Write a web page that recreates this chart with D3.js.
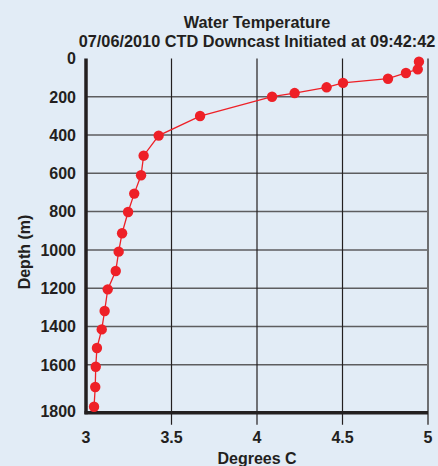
<!DOCTYPE html>
<html><head><meta charset="utf-8">
<script src="https://cdn.jsdelivr.net/npm/d3@7"></script>
<style>
html,body{margin:0;padding:0;background:#e2ecf6;}
svg{display:block;}
text{font-family:"Liberation Sans",Arial,Helvetica,sans-serif;font-weight:bold;fill:#231f20;}
</style></head>
<body>
<svg id="chart" width="438" height="466"></svg>
<script>
const titleLines = ["Water Temperature", "07/06/2010 CTD Downcast Initiated at 09:42:42"];
const xLabel = "Degrees C";
const yLabel = "Depth (m)";
const xTicks = [3, 3.5, 4, 4.5, 5];
const xTickLabels = ["3", "3.5", "4", "4.5", "5"];
const yTicks = [0, 200, 400, 600, 800, 1000, 1200, 1400, 1600, 1800];
const depths = [17, 57, 76, 106, 128, 151, 181, 200, 301, 403, 508, 610, 706, 802, 913, 1009, 1110, 1206, 1319, 1415, 1512, 1610, 1716, 1819];
const temps  = [4.947, 4.94, 4.871, 4.766, 4.503, 4.407, 4.22, 4.088, 3.667, 3.425, 3.337, 3.322, 3.282, 3.246, 3.211, 3.191, 3.174, 3.127, 3.109, 3.092, 3.064, 3.057, 3.054, 3.047];

const svg = d3.select("#chart");
const m = {left: 86, top: 58.4, right: 10, bottom: 53.3};
const W = 438 - m.left - m.right, H = 466 - m.top - m.bottom;
const x = d3.scaleLinear().domain([3, 5]).range([m.left, m.left + W]);
const y = d3.scaleLinear().domain([0, 1850]).range([m.top, m.top + H]);

// horizontal grid
svg.append("g").selectAll("line").data(yTicks.filter(d => d > 0 && d < 1800)).join("line")
  .attr("x1", x(3)).attr("x2", x(5)).attr("y1", d => y(d)).attr("y2", d => y(d))
  .attr("stroke", "#5d5d5f").attr("stroke-width", 1.5);
// vertical grid
svg.append("g").selectAll("line").data(xTicks.filter(d => d > 3)).join("line")
  .attr("x1", d => x(d)).attr("x2", d => x(d)).attr("y1", y(0)).attr("y2", y(1850) + 12)
  .attr("stroke", d => d === 5 ? "#6d6e71" : "#231f20").attr("stroke-width", d => d === 5 ? 2 : 1.2);
// axes
svg.append("line").attr("x1", x(3)).attr("x2", x(3)).attr("y1", y(0)).attr("y2", y(1850) + 1.5)
  .attr("stroke", "#231f20").attr("stroke-width", 3.5);
svg.append("line").attr("x1", x(3) - 1.5).attr("x2", x(5)).attr("y1", y(1850)).attr("y2", y(1850))
  .attr("stroke", "#231f20").attr("stroke-width", 3.5);

// tick labels
svg.append("g").selectAll("text").data(xTicks).join("text")
  .attr("x", d => x(d)).attr("y", 443).attr("text-anchor", "middle")
  .style("font-size", "16px").text((d, i) => xTickLabels[i]);
svg.append("g").selectAll("text").data(yTicks).join("text")
  .attr("x", 76).attr("y", (d, i) => (i === yTicks.length - 1 ? y(1850) - 1.5 : y(d)) + 5.8).attr("text-anchor", "end")
  .style("font-size", "16px").text(d => d);

// titles
svg.append("g").selectAll("text").data(titleLines).join("text")
  .attr("x", 257).attr("y", (d, i) => 28 + i * 19.3).attr("text-anchor", "middle")
  .style("font-size", "16.3px").text(d => d);
svg.append("text").attr("x", 257).attr("y", 464).attr("text-anchor", "middle")
  .style("font-size", "16px").text(xLabel);
svg.append("text").attr("transform", "translate(30,252) rotate(-90)").attr("text-anchor", "middle")
  .style("font-size", "16px").text(yLabel);

// data
const pts = depths.map((d, i) => ({d, t: temps[i]}));
svg.append("path").datum(pts)
  .attr("d", d3.line().x(p => x(p.t)).y(p => y(p.d)))
  .attr("fill", "none").attr("stroke", "#ee2027").attr("stroke-width", 1.3);
svg.append("g").selectAll("circle").data(pts).join("circle")
  .attr("cx", p => x(p.t)).attr("cy", p => y(p.d)).attr("r", 5.2)
  .attr("fill", "#ee2027");
</script>
</body></html>
